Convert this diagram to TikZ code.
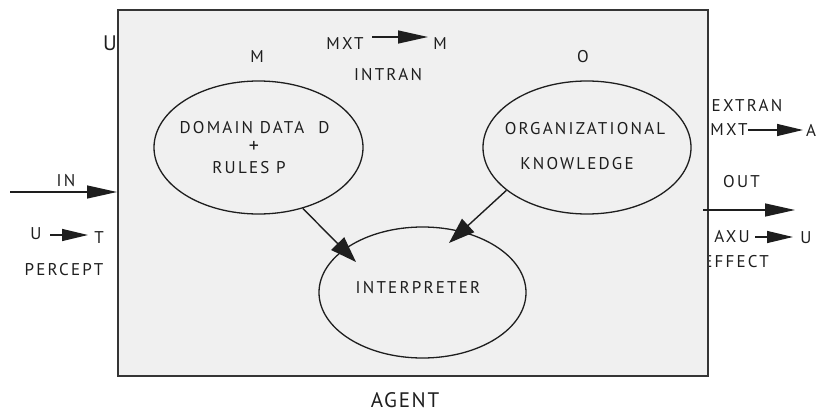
\documentclass[tikz,border=0pt]{standalone}
\usepackage{fontspec}
\setmainfont{PT Sans}[LetterSpace=13]
\newfontfamily\bigface{PT Sans}[LetterSpace=8]
\usetikzlibrary{arrows.meta,shapes.geometric}
\definecolor{boxfill}{HTML}{F0F0F0}
\definecolor{ink}{HTML}{1E1E1E}
\tikzset{
  lbl/.style={inner sep=0pt,font=\fontsize{17}{19}\selectfont,text=ink},
  biglbl/.style={inner sep=0pt,font=\bigface\fontsize{21}{23}\selectfont,text=ink},
  blob/.style={ellipse,draw=ink,line width=1.3pt,inner sep=0pt},
  conn/.style={draw=ink,line width=1.4pt},
  longtip/.style={conn,-{Triangle[length=30pt,width=13pt]}},
  shorttip/.style={conn,-{Triangle[length=26pt,width=12pt]}},
  slanttip/.style={conn,-{Triangle[length=26pt,width=18pt]}},
}
\begin{document}
\begin{tikzpicture}[x=1pt,y=-1pt]
\useasboundingbox (0,0) rectangle (818,412);

% this label sits partly under the frame's edge, so it is set first
\node[lbl] (effect) at (736,262) {EFFECT};

% agent frame
\node[draw=ink!90,line width=2pt,fill=boxfill,inner sep=0pt,
      minimum width=590pt,minimum height=366pt] (agent) at (413,193) {};

% knowledge stores and interpreter
\node[blob,minimum width=209pt,minimum height=133pt] (dom) at (258.5,147.5) {};
\node[blob,minimum width=208pt,minimum height=133pt] (org) at (587,147.5) {};
\node[blob,minimum width=207pt,minimum height=131pt] (interp) at (422.5,292.5) {};

\node[lbl] (domA) at (254.5,128) {DOMAIN DATA\hspace{14pt}D};
\node[lbl,font=\fontsize{20}{22}\selectfont] (domB) at (254,147) {+};
\node[lbl] (domC) at (249,168) {RULES P};
\node[lbl] (orgA) at (585,129) {ORGANIZATIONAL};
\node[lbl] (orgB) at (577,164) {KNOWLEDGE};
\node[lbl] (intA) at (418,288) {INTERPRETER};

\coordinate (t1) at (356,262);
\coordinate (t2) at (449,243);
\draw[slanttip] (dom.-54) -- (t1);
\draw[slanttip] (org.-152) -- (t2);

% labels inside the frame
\node[biglbl] (uin) at (110,43) {U};
\node[lbl] (mdom) at (257,57) {M};
\node[lbl] (morg) at (583,57) {O};
\node[lbl] (mxtA) at (345,44) {MXT};
\node[lbl] (mA) at (440,44) {M};
\node[lbl] (intran) at (388,75) {INTRAN};
\coordinate (ia) at (372,37);
\coordinate (ib) at (428,37);
\draw[longtip] (ia) -- (ib);

% input side
\coordinate (inA) at (10,192);
\node[lbl] (inlbl) at (66,181) {IN};
\draw[longtip] (inA) -- (agent.west |- inA);
\node[lbl] (pu) at (36,234) {U};
\node[lbl] (pt) at (99,238) {T};
\coordinate (pa) at (50,235);
\coordinate (pb) at (88,235);
\draw[shorttip] (pa) -- (pb);
\node[lbl] (percept) at (64,270) {PERCEPT};

% output side
\node[lbl] (outlbl) at (741.5,182) {OUT};
\coordinate (oa) at (703,210);
\coordinate (ob) at (795,210);
\draw[longtip] (oa) -- (ob);
\node[lbl] (extran) at (747,106) {EXTRAN};
\node[lbl] (mxtB) at (729,130) {MXT};
\node[lbl,anchor=west] (aout) at (806,130) {A};
\coordinate (ea) at (748,130);
\coordinate (eb) at (803,130);
\draw[shorttip] (ea) -- (eb);
\node[lbl] (axu) at (732,237) {AXU};
\node[lbl] (uout) at (806,238) {U};
\coordinate (xa) at (755,237);
\coordinate (xb) at (793,237);
\draw[shorttip] (xa) -- (xb);

\node[biglbl] (agentlbl) at (405,400) {AGENT};
\end{tikzpicture}
\end{document}
